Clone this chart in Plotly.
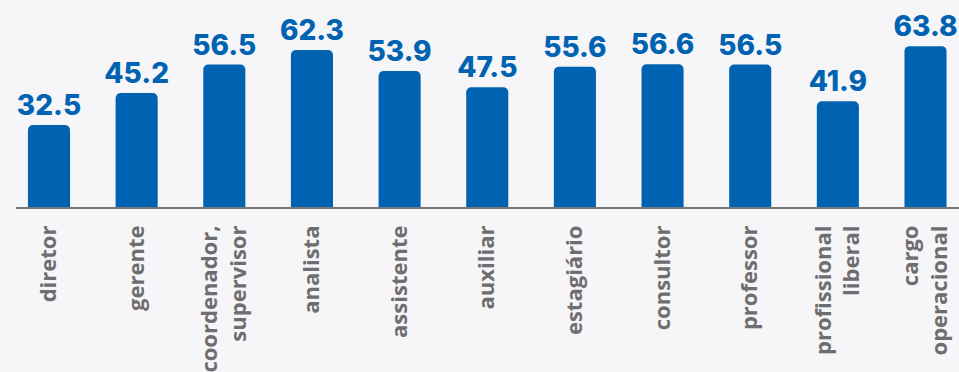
import plotly.graph_objects as go

categories = ["diretor", "gerente", "coordenador,<br>supervisor", "analista", "assistente",
              "auxiliar", "estagiário", "consultor", "professor", "profissional<br>liberal",
              "cargo<br>operacional"]
values = [32.5, 45.2, 56.5, 62.3, 53.9, 47.5, 55.6, 56.6, 56.5, 41.9, 63.8]
value_labels = ["32.5", "45.2", "56.5", "62.3", "53.9", "47.5", "55.6", "56.6", "56.5", "41.9", "63.8"]

BLUE = "#0063b1"
BG = "#f6f5f8"

fig = go.Figure(go.Bar(
    x=list(range(len(categories))),
    y=values,
    text=value_labels,
    textposition="outside",
    constraintext="none",
    cliponaxis=False,
    textfont=dict(family="Inter", size=28, color=BLUE, weight=800),
    marker=dict(color=BLUE, cornerradius=5, line=dict(width=0)),
    hoverinfo="skip",
))

fig.update_layout(
    width=959, height=372,
    margin=dict(l=16, r=0, t=0, b=165),
    paper_bgcolor=BG, plot_bgcolor=BG,
    bargap=0.52,
    showlegend=False,
)
fig.update_xaxes(
    range=[-0.3765, 10.382],
    tickmode="array",
    tickvals=list(range(len(categories))),
    ticktext=categories,
    tickangle=-90,
    tickfont=dict(family="Open Sans", size=22, color="#6e6e6e", weight=700),
    ticklabelstandoff=8,
    showline=True, linecolor="#777777", linewidth=1.5,
    showgrid=False, zeroline=False, ticks="", ticklen=0,
)
fig.update_yaxes(range=[0, 82.1], visible=False, showgrid=False, zeroline=False)

fig.write_html("out.html")
